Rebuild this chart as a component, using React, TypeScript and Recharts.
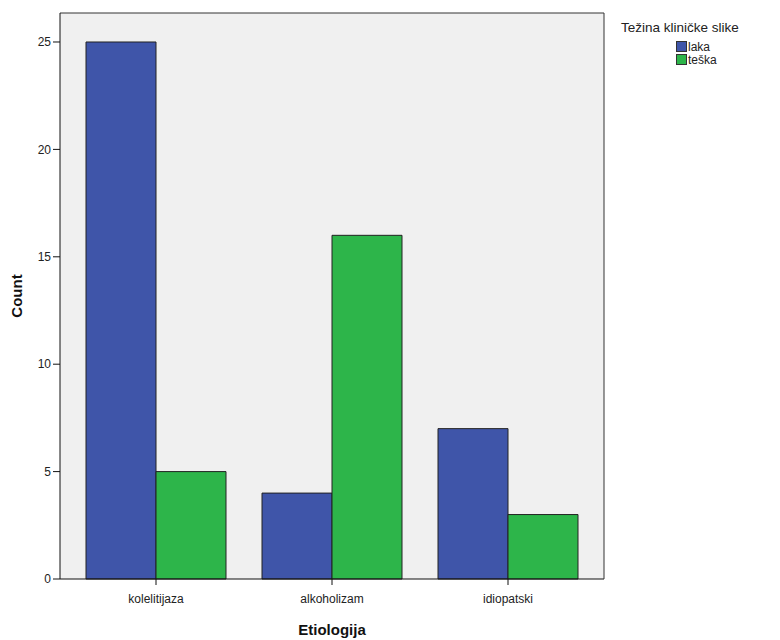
import React from 'react';
import { BarChart, Bar, XAxis, YAxis, CartesianGrid, Legend } from 'recharts';

const categories = ['kolelitijaza', 'alkoholizam', 'idiopatski'];
const laka = [25, 4, 7];
const teska = [5, 16, 3];
const yTicks = [0, 5, 10, 15, 20, 25];
const yMax = 26.35;
const seriesNames = ['laka', 'teška'];
const seriesColors = ['#3F55A9', '#2DB54A'];
const legendTitle = 'Težina kliničke slike';
const xTitle = 'Etiologija';
const yTitle = 'Count';

const data = categories.map((c, i) => ({ name: c, laka: laka[i], teska: teska[i] }));

const font = 'Arial, "Liberation Sans", sans-serif';

const LegendContent = () => (
  <div style={{ fontFamily: font, color: '#222' }}>
    <div style={{ fontSize: 13.5, marginBottom: 5 }}>{legendTitle}</div>
    {seriesNames.map((n, i) => (
      <div key={n} style={{ display: 'flex', alignItems: 'center', marginLeft: 55, height: 13, fontSize: 12 }}>
        <span style={{ display: 'inline-block', width: 9, height: 9, background: seriesColors[i], border: '1px solid #333', marginRight: 1 }} />
        <span>{n}</span>
      </div>
    ))}
  </div>
);

const YLabel = (props: any) => {
  const vb = props.viewBox || {};
  const cy = vb.y + vb.height / 2;
  return (
    <text x={22} y={cy} transform={`rotate(-90, 22, ${cy})`} textAnchor="middle" fontFamily={font} fontWeight="bold" fontSize={15} fill="#111">
      {yTitle}
    </text>
  );
};

const XLabel = (props: any) => {
  const vb = props.viewBox || {};
  const cx = vb.x + vb.width / 2;
  return (
    <text x={cx} y={vb.y + 56} textAnchor="middle" fontFamily={font} fontWeight="bold" fontSize={15} fill="#111">
      {xTitle}
    </text>
  );
};

export default function App() {
  return (
    <div style={{ position: 'absolute', left: 0, top: 0, width: 780, height: 640, background: '#fff' }}>
      <BarChart
        width={780}
        height={640}
        data={data}
        margin={{ top: 12, right: 175, bottom: 0, left: 0 }}
        barCategoryGap={18}
        barGap={0}
      >
        <CartesianGrid horizontal={false} vertical={false} fill="#F0F0F0" />
        <XAxis
          dataKey="name"
          xAxisId="b"
          height={61}
          padding={{ left: 8, right: 8 }}
          tickSize={6}
          tickMargin={9}
          tick={{ fontFamily: font, fontSize: 12, fill: '#222' }}
          axisLine={{ stroke: '#111' }}
          tickLine={{ stroke: '#111' }}
          interval={0}
          label={<XLabel />}
        />
        <XAxis dataKey="name" xAxisId="t" orientation="top" height={1} tick={false} tickLine={false} axisLine={{ stroke: '#333' }} />
        <YAxis
          yAxisId="l"
          width={60}
          domain={[0, yMax]}
          ticks={yTicks}
          tickSize={7}
          tick={{ fontFamily: font, fontSize: 12, fill: '#222' }}
          axisLine={{ stroke: '#111' }}
          tickLine={{ stroke: '#111' }}
          label={<YLabel />}
        />
        <YAxis yAxisId="r" orientation="right" width={1} domain={[0, yMax]} tick={false} tickLine={false} axisLine={{ stroke: '#333' }} />
        <Legend
          layout="vertical"
          align="center"
          verticalAlign="middle"
          content={<LegendContent />}
          wrapperStyle={{ position: 'absolute', left: 621, top: 20, width: 160 }}
        />
        <Bar dataKey="laka" name={seriesNames[0]} xAxisId="b" yAxisId="l" fill={seriesColors[0]} stroke="#222" strokeWidth={1} isAnimationActive={false} />
        <Bar dataKey="teska" name={seriesNames[1]} xAxisId="b" yAxisId="l" fill={seriesColors[1]} stroke="#222" strokeWidth={1} isAnimationActive={false} />
      </BarChart>
    </div>
  );
}
